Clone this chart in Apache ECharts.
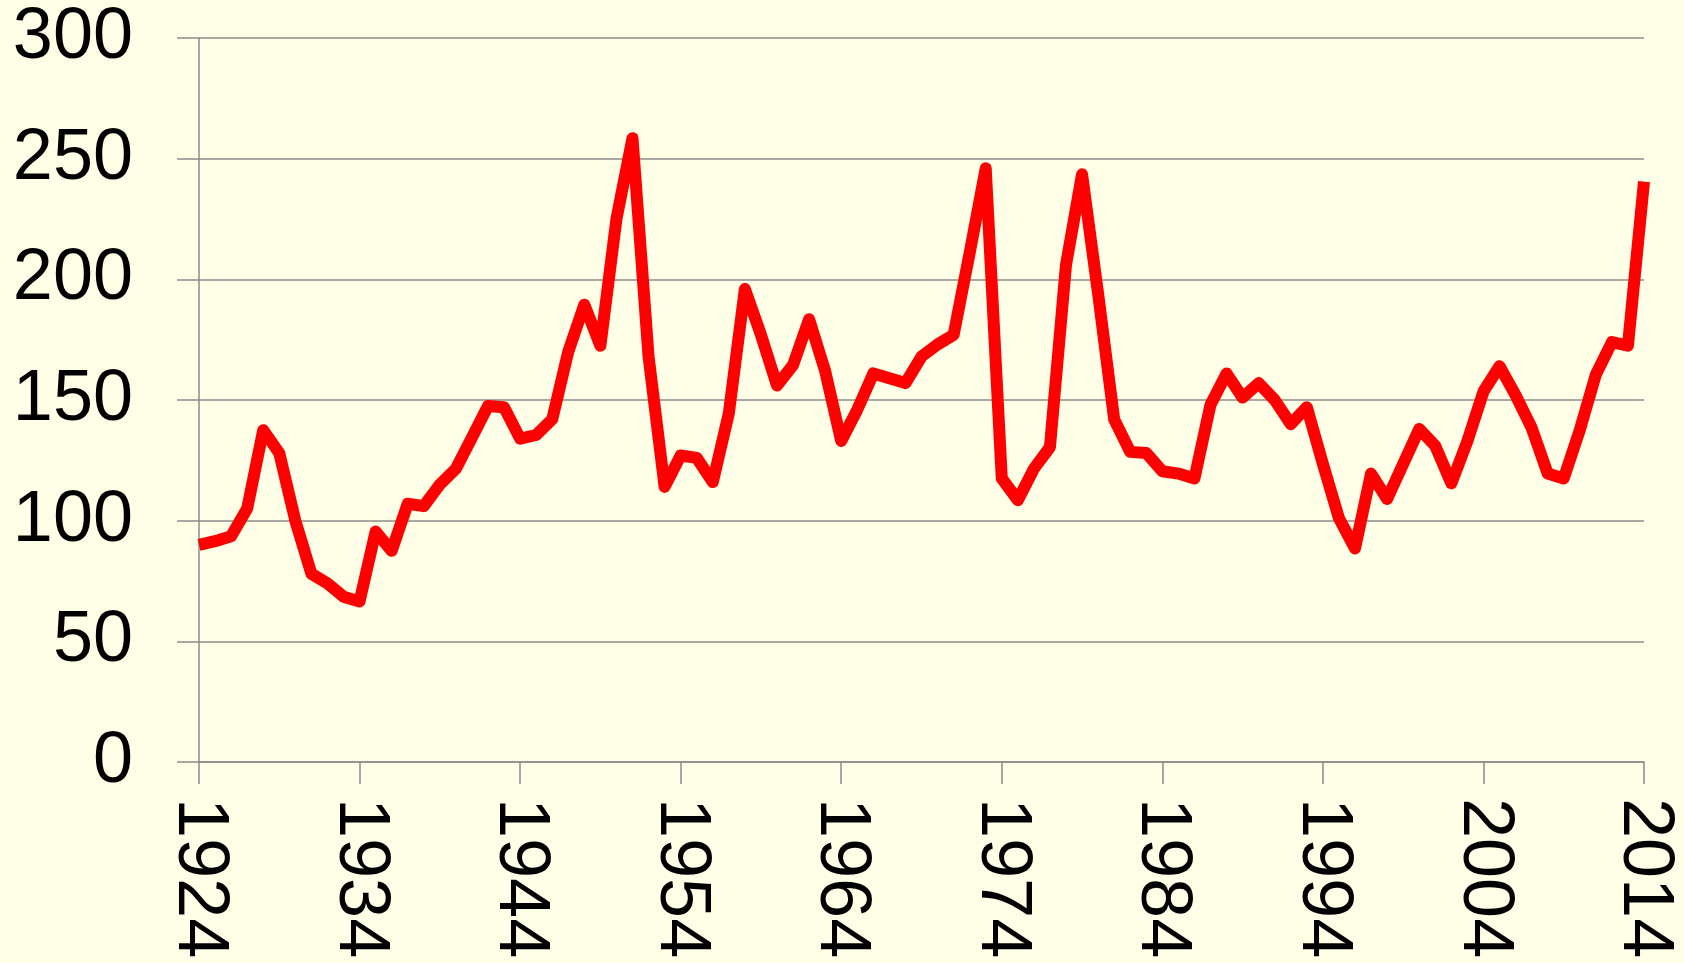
<!DOCTYPE html>
<html>
<head>
<meta charset="utf-8">
<script src="https://cdn.jsdelivr.net/npm/echarts@6/dist/echarts.min.js"></script>
<style>
html,body{margin:0;padding:0;background:#FFFFE8;}
#chart{width:1684px;height:963px;}
</style>
</head>
<body>
<div id="chart"></div>
<script>
var years = [];
for (var y = 1924; y <= 2014; y++) { years.push(String(y)); }

var values = [
  90, 91.5, 93.5, 105, 137.5, 128, 100, 78, 74, 68.5,          // 1924-1933
  66.5, 95.5, 87.5, 107, 106, 115, 121.5, 134.5, 147.5, 147,   // 1934-1943
  134, 135.5, 142, 170, 189.5, 172.5, 225, 258.5, 168, 114,    // 1944-1953
  127, 126, 116, 144.5, 196, 177, 156, 164.5, 183.5, 162,      // 1954-1963
  133, 146, 161, 159, 157, 168, 173, 177, 211, 246,            // 1964-1973
  117.5, 108.5, 121.5, 130.5, 206, 243.5, 194, 142, 128.5, 128,// 1974-1983
  120.5, 119.5, 117.5, 148, 161, 151, 157, 150, 140, 147,      // 1984-1993
  123.5, 101, 88.5, 119.5, 109, 123.5, 138, 131, 115.5, 133,   // 1994-2003
  153.5, 164, 152, 138.5, 119.5, 117.5, 137.5, 160.5, 174, 172.5, // 2004-2013
  240.5                                                         // 2014
];

var yMin = 0, yMax = 300, yStep = 50;

var chart = echarts.init(document.getElementById('chart'));
chart.setOption({
  backgroundColor: '#FFFFE8',
  animation: false,
  grid: { left: 199, right: 40, top: 38, bottom: 201, containLabel: false },
  xAxis: {
    type: 'category',
    data: years,
    boundaryGap: false,
    axisLine: { show: true, lineStyle: { color: '#8c8c8c', width: 1.5 } },
    axisTick: { show: true, interval: 9, length: 22, lineStyle: { color: '#8c8c8c', width: 1.5 } },
    axisLabel: {
      interval: 9, rotate: -90, margin: 36,
      fontSize: 72, color: '#000', fontFamily: 'Liberation Sans, Arial, sans-serif'
    },
    splitLine: { show: false }
  },
  yAxis: {
    type: 'value',
    min: yMin, max: yMax, interval: yStep,
    axisLine: { show: true, lineStyle: { color: '#8c8c8c', width: 1.5 } },
    axisTick: { show: true, length: 22, lineStyle: { color: '#8c8c8c', width: 1.5 } },
    axisLabel: {
      margin: 66, fontSize: 72, color: '#000',
      fontFamily: 'Liberation Sans, Arial, sans-serif'
    },
    splitLine: { show: true, lineStyle: { color: '#8c8c8c', width: 1.5 } }
  },
  series: [{
    type: 'line',
    data: values,
    showSymbol: false,
    symbol: 'none',
    clip: true,
    lineStyle: { color: '#FF0000', width: 12, join: 'round', cap: 'butt' }
  }]
});
</script>
</body>
</html>
